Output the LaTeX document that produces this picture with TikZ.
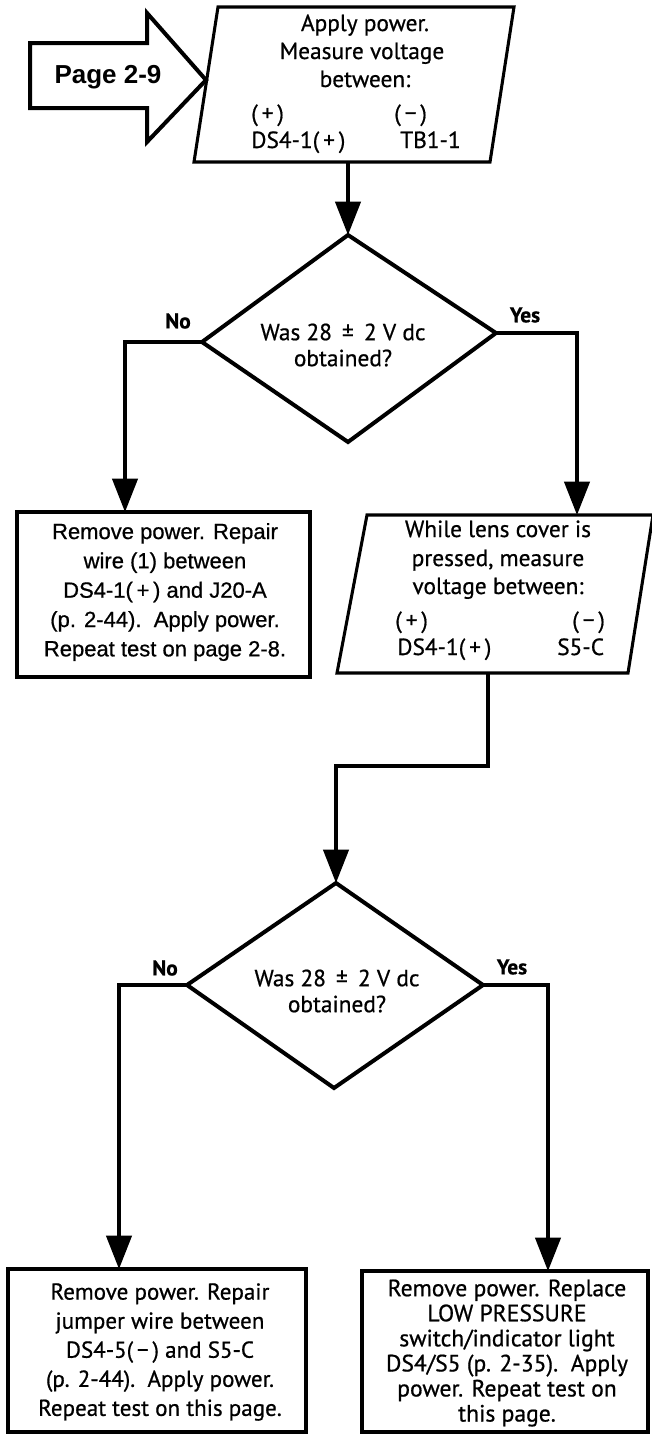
\documentclass[tikz,border=0pt]{standalone}
\usepackage{fontspec}
\setmainfont{PT Sans}[RawFeature={embolden=0.7}]
\newfontfamily\helv{Liberation Sans}[RawFeature={embolden=0.7}]
\newfontfamily\helvbold{Liberation Sans Bold}
\usetikzlibrary{arrows.meta}
\begin{document}
\begin{tikzpicture}[x=0.75pt,y=-0.75pt,
  outline/.style={line width=2.3pt, line join=miter},
  heavy/.style={line width=3pt, line join=miter},
  flow/.style={line width=2.4pt, line join=miter, -{Triangle[width=19pt,length=25pt]}},
  txt/.style={inner sep=0pt, anchor=base, font=\fontsize{17.5}{21}\selectfont},
  txtw/.style={txt, anchor=base west},
  para/.style={inner sep=0pt, align=center},
  helvtxt/.style={inner sep=0pt, align=center, font=\helv\fontsize{16.5}{22}\selectfont},
  answer/.style={inner sep=0pt, font=\bfseries\fontsize{16}{18}\selectfont},
  question/.style={inner sep=0pt, align=center, font=\fontsize{17.5}{19.5}\selectfont}
]
\useasboundingbox (0,0) rectangle (651,1435);

% ---- entry arrow ----
\draw[heavy] (30,43) coordinate (pa1) -- (147,43) -- (147,13) -- (206,80) coordinate (patip)
  -- (147,142) -- (147,108) -- (30,108) -- cycle;
\node[inner sep=0pt, font=\helvbold\fontsize{19.5}{22}\selectfont] (pagelbl) at (108,77) {Page 2-9};

% ---- first measurement step ----
\coordinate (p1tl) at (218,7);
\coordinate (p1tr) at (514,7);
\coordinate (p1br) at (490,162);
\coordinate (p1bl) at (194,162);
\coordinate (p1out) at (348,162);
\draw[outline] (p1tl) -- (p1tr) -- (p1br) -- (p1bl) -- cycle;
\node[txt] (p1a) at (365,31) {Apply power.};
\node[txt] (p1b) at (362,59) {Measure voltage};
\node[txt] (p1c) at (365,87) {between:};
\node[txtw] (p1d) at (251,121) {(\,+\,)};
\node[txtw] (p1e) at (394,121) {(\,−\,)};
\node[txtw] (p1f) at (251,148) {DS4-1(\,+\,)};
\node[txtw] (p1g) at (400,148) {TB1-1};

% ---- first decision ----
\coordinate (d1t) at (348,235);
\coordinate (d1l) at (202,342);
\coordinate (d1r) at (496,333);
\coordinate (d1b) at (348,442);
\draw[heavy] (d1t) -- (d1r) -- (d1b) -- (d1l) -- cycle;
\node[question] (q1) at (343,345) {Was 28 \,±\, 2 V dc\\obtained?};
\node[answer] (no1) at (178,321) {No};
\node[answer] (yes1) at (525,315) {Yes};

% ---- repair wire (1) ----
\coordinate (b1tl) at (17,512);
\coordinate (b1br) at (310,677);
\coordinate (b1in) at (125,512);
\draw[heavy] (b1tl) rectangle (b1br);
\node[helvtxt] (b1txt) at (165,592)
  {Remove power. Repair\\wire (1) between\\DS4-1(\,+\,) and J20-A\\(p. 2-44).\ \ Apply power.\\Repeat test on page 2-8.};

% ---- second measurement step ----
\coordinate (p2tl) at (367,515);
\coordinate (p2tr) at (653,515);
\coordinate (p2br) at (628,673);
\coordinate (p2bl) at (337,673);
\coordinate (p2in) at (577,515);
\coordinate (p2out) at (488,673);
\coordinate (jog) at (488,766);
\draw[outline] (p2tl) -- (p2tr) -- (p2br) -- (p2bl) -- cycle;
\node[txt] (p2a) at (498,537) {While lens cover is};
\node[txt] (p2b) at (498,566) {pressed, measure};
\node[txt] (p2c) at (498,594) {voltage between:};
\node[txtw] (p2d) at (395,628) {(\,+\,)};
\node[txtw] (p2e) at (572,628) {(\,−\,)};
\node[txtw] (p2f) at (397,655) {DS4-1(\,+\,)};
\node[txtw] (p2g) at (557,655) {S5-C};

% ---- second decision ----
\coordinate (d2t) at (336,883);
\coordinate (d2l) at (187,985);
\coordinate (d2r) at (483,985);
\coordinate (d2b) at (334,1088);
\draw[heavy] (d2t) -- (d2r) -- (d2b) -- (d2l) -- cycle;
\node[question] (q2) at (337,991) {Was 28 \,±\, 2 V dc\\obtained?};
\node[answer] (no2) at (165,968) {No};
\node[answer] (yes2) at (512,967) {Yes};

% ---- repair jumper ----
\coordinate (b2tl) at (8,1269);
\coordinate (b2br) at (306,1432);
\coordinate (b2in) at (119,1269);
\draw[heavy] (b2tl) rectangle (b2br);
\node[para, font=\fontsize{17.3}{21.8}\selectfont] (b2txt) at (160,1352)
  {Remove power. Repair\\jumper wire between\\DS4-5(\,−\,) and S5-C\\(p. 2-44).\ \ Apply power.\\Repeat test on this page.};

% ---- replace switch/indicator ----
\coordinate (b3tl) at (362,1271);
\coordinate (b3br) at (648,1432);
\coordinate (b3in) at (548,1271);
\draw[heavy] (b3tl) rectangle (b3br);
\node[para, font=\fontsize{17.7}{18.8}\selectfont] (b3txt) at (507,1353)
  {Remove power. Replace\\LOW PRESSURE\\switch/indicator light\\DS4/S5 (p. 2-35).\ \ Apply\\power. Repeat test on\\this page.};

% ---- connectors ----
\draw[flow] (p1out) -- (d1t);
\draw[flow] (d1l) -| (b1in);
\draw[flow] (d1r) -| (p2in);
\draw[flow] (p2out) -- (jog) -| (d2t);
\draw[flow] (d2l) -| (b2in);
\draw[flow] (d2r) -| (b3in);
\end{tikzpicture}
\end{document}
